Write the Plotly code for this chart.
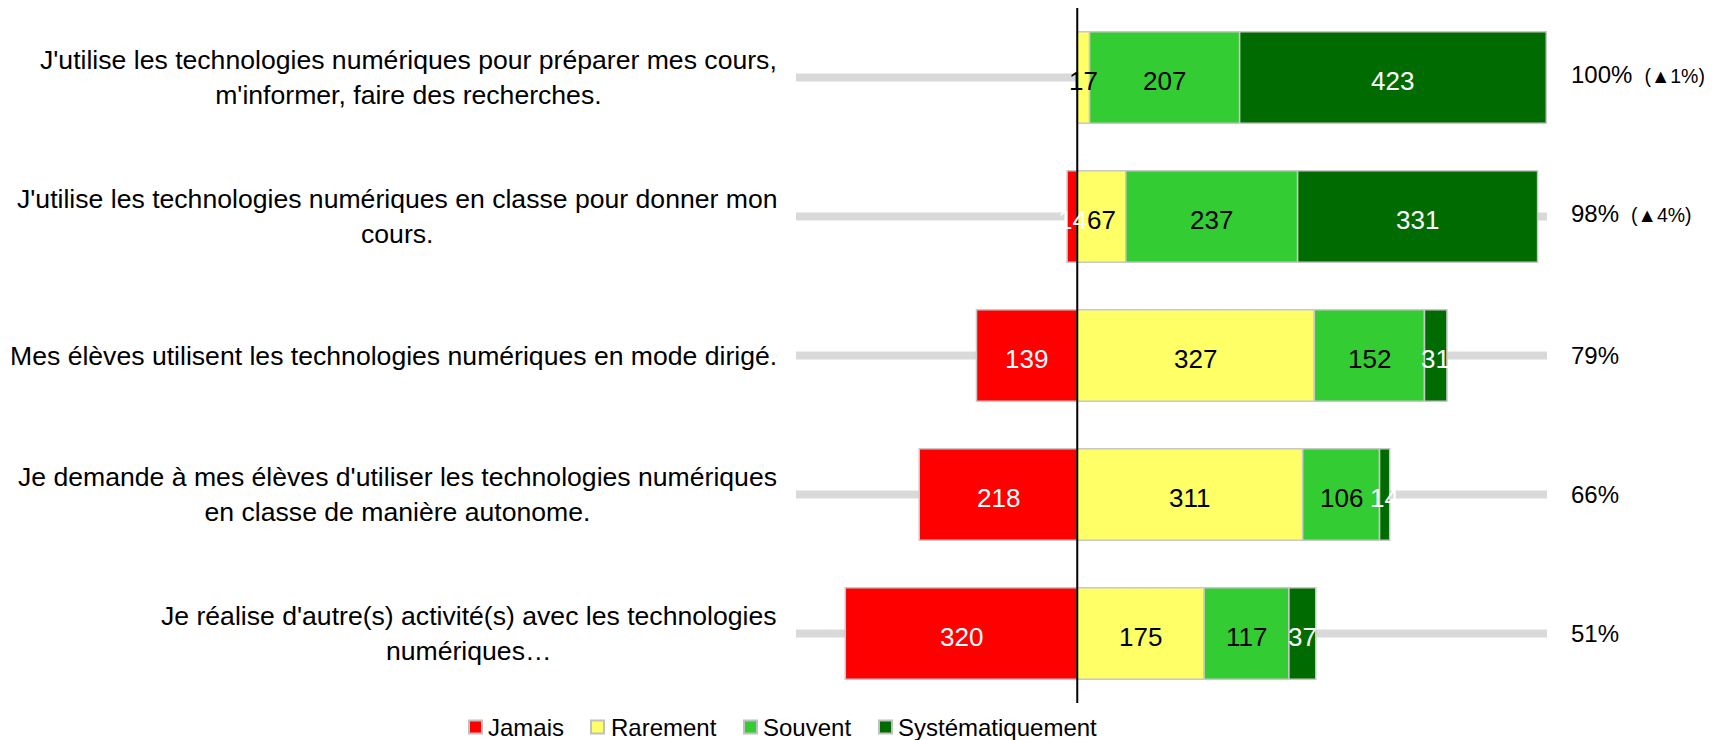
import plotly.graph_objects as go

categories = [
    "J'utilise les technologies numériques pour préparer mes cours,<br>m'informer, faire des recherches.",
    "J'utilise les technologies numériques en classe pour donner mon<br>cours.",
    "Mes élèves utilisent les technologies numériques en mode dirigé.",
    "Je demande à mes élèves d'utiliser les technologies numériques<br>en classe de manière autonome.",
    "Je réalise d'autre(s) activité(s) avec les technologies<br>numériques…",
]
series_names = ["Jamais", "Rarement", "Souvent", "Systématiquement"]
jamais = [0, 14, 139, 218, 320]
rarement = [17, 67, 327, 311, 175]
souvent = [207, 237, 152, 106, 117]
systematiquement = [423, 331, 31, 14, 37]
percent_labels = ["100%", "98%", "79%", "66%", "51%"]
trend_labels = ["(▲1%)", "(▲4%)", "", "", ""]
track_min = -388
track_max = 648

colors = ["#ff0000", "#ffff66", "#33cc33", "#006b00"]
text_colors = ["white", "black", "black", "white"]
FONT = "Liberation Sans, Arial, sans-serif"

W, H = 1712, 740
ML, MR, MT, MB = 788, 173, 0, 45
PW, PH = W - ML - MR, H - MT - MB


def px(x):
    return (x - ML) / PW


def py(y):
    return (MT + PH - y) / PH


ids = list(range(len(categories)))
values = [[-v for v in jamais], rarement, souvent, systematiquement]

fig = go.Figure()

for name, vals, col in zip(series_names, values, colors):
    fig.add_trace(go.Bar(
        y=ids, x=vals, orientation="h", name=name,
        marker=dict(color=col, line=dict(color="#c8c8c8", width=1.5)),
        width=0.66, hoverinfo="x+name", showlegend=False,
    ))

annotations = []

raw = [jamais, rarement, souvent, systematiquement]
for k, (vals, tc) in enumerate(zip(raw, text_colors)):
    for i in ids:
        v = vals[i]
        if v == 0:
            continue
        if k == 0:
            c = -v / 2
        else:
            c = sum(raw[j][i] for j in range(1, k)) + v / 2
        annotations.append(dict(xref="x", yref="y", x=c, y=i, xanchor="center", yanchor="middle",
                                yshift=-3, showarrow=False, text=str(v),
                                font=dict(size=26, color=tc, family=FONT)))

shapes = []
for i in ids:
    shapes.append(dict(type="line", xref="x", yref="y", x0=track_min, x1=track_max,
                       y0=i, y1=i, line=dict(color="#d9d9d9", width=8), layer="below"))
shapes.append(dict(type="line", xref="x", yref="paper", x0=0, x1=0, y0=0, y1=1,
                   line=dict(color="black", width=2), layer="above"))

for i in ids:
    annotations.append(dict(xref="paper", yref="y", x=0, y=i, xanchor="right", yanchor="middle",
                            xshift=-17, align="center", showarrow=False, text=categories[i],
                            font=dict(size=26.6, color="black", family=FONT)))
    t = percent_labels[i]
    shift = 0
    if trend_labels[i]:
        t += "&nbsp;<span style='font-size:19.5px'>&nbsp;" + trend_labels[i] + "</span>"
        shift = 3
    annotations.append(dict(xref="paper", yref="y", x=1, y=i, xanchor="left", yanchor="middle",
                            xshift=22, yshift=shift, align="left", showarrow=False, text=t,
                            font=dict(size=24, color="black", family=FONT)))

# custom legend (pixel positions in figure coordinates)
legend_sq_left = [461, 583, 736, 871]
legend_text_left = [478, 601, 753, 888]
legend_y = 719
for name, col, sx, tx in zip(series_names, colors, legend_sq_left, legend_text_left):
    shapes.append(dict(type="rect", xref="paper", yref="paper",
                       x0=px(sx), x1=px(sx + 13), y0=py(legend_y - 6.5), y1=py(legend_y + 6.5),
                       fillcolor=col, line=dict(color="#c0c0c0", width=2)))
    annotations.append(dict(xref="paper", yref="paper", x=px(tx), y=py(legend_y),
                            xanchor="left", yanchor="middle", showarrow=False, text=name,
                            font=dict(size=24, color="black", family=FONT)))

fig.update_layout(
    width=W, height=H,
    margin=dict(l=ML, r=MR, t=MT, b=MB, autoexpand=False),
    barmode="relative",
    plot_bgcolor="white", paper_bgcolor="white",
    xaxis=dict(range=[track_min, track_max], visible=False, fixedrange=True),
    yaxis=dict(range=[4.5, -0.5], visible=False, fixedrange=True),
    shapes=shapes, annotations=annotations,
    showlegend=False,
    font=dict(family=FONT),
)

fig.write_html("out.html")
